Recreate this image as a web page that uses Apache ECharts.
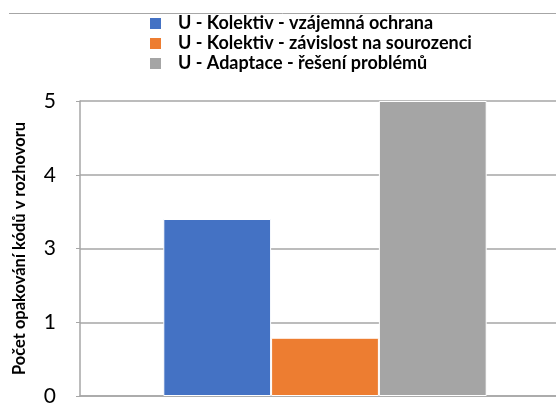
<!DOCTYPE html>
<html>
<head>
<meta charset="utf-8">
<script src="https://cdn.jsdelivr.net/npm/echarts@6/dist/echarts.min.js"></script>
<style>
  html, body { margin: 0; padding: 0; background: #fff; }
  #chart { width: 556px; height: 403px; }
</style>
</head>
<body>
<div id="chart"></div>
<script>
// data (values in axis steps, labels below)
const categories = ['']
const seriesNames = [
  'U - Kolektiv - vzájemná ochrana',
  'U - Kolektiv - závislost na sourozenci',
  'U - Adaptace - řešení problémů'
]
const ochrana = [2.4]
const zavislost = [0.79]
const reseni = [4]
const yTickLabels = ['0', '1', '3', '4', '5']
const colors = ['#4472C4', '#ED7D31', '#A5A5A5']

const chart = echarts.init(document.getElementById('chart'))
const font = 'Lato, "Open Sans", sans-serif'

let option = {
  animation: false,
  color: colors,
  graphic: [
    {
      type: 'line',
      shape: { x1: 9, y1: 13.5, x2: 556, y2: 13.5 },
      style: { stroke: '#a6a6a6', lineWidth: 1 }
    }
  ],
  legend: {
    orient: 'vertical',
    left: 148,
    top: 13.5,
    padding: 0,
    itemWidth: 13,
    itemHeight: 13,
    itemGap: 0,
    icon: 'rect',
    textStyle: {
      fontFamily: font,
      fontWeight: 'bold',
      fontSize: 18,
      lineHeight: 20,
      color: '#000',
      padding: [0, 0, 0, 11]
    },
    data: seriesNames
  },
  grid: {
    left: 80,
    top: 101,
    bottom: 7,
    width: 490,
    containLabel: false,
    outerBoundsMode: 'none'
  },
  xAxis: {
    type: 'category',
    data: categories,
    axisLine: { lineStyle: { color: '#a6a6a6', width: 1.5 } },
    axisTick: { show: false },
    axisLabel: { show: false }
  },
  yAxis: {
    type: 'value',
    min: 0,
    max: 4,
    interval: 1,
    name: 'Počet opakování kódů v rozhovoru',
    nameLocation: 'middle',
    nameGap: 52,
    nameTextStyle: {
      fontFamily: font,
      fontWeight: 'bold',
      fontSize: 16.5,
      color: '#000'
    },
    axisLine: { show: true, lineStyle: { color: '#a6a6a6', width: 1.5 } },
    axisTick: { show: true, length: 4, lineStyle: { color: '#a6a6a6' } },
    axisLabel: {
      margin: 24,
      fontFamily: font,
      fontSize: 21,
      color: '#000',
      formatter: v => yTickLabels[v]
    },
    splitLine: { lineStyle: { color: '#a6a6a6', width: 1.5 } }
  },
  series: [
    { name: seriesNames[0], type: 'bar', data: ochrana },
    { name: seriesNames[1], type: 'bar', data: zavislost },
    { name: seriesNames[2], type: 'bar', data: reseni }
  ].map(s => Object.assign(s, {
    barGap: '0%',
    barCategoryGap: '34%',
    itemStyle: { borderColor: '#fff', borderWidth: 1 }
  }))
}
chart.setOption(option)
</script>
</body>
</html>
